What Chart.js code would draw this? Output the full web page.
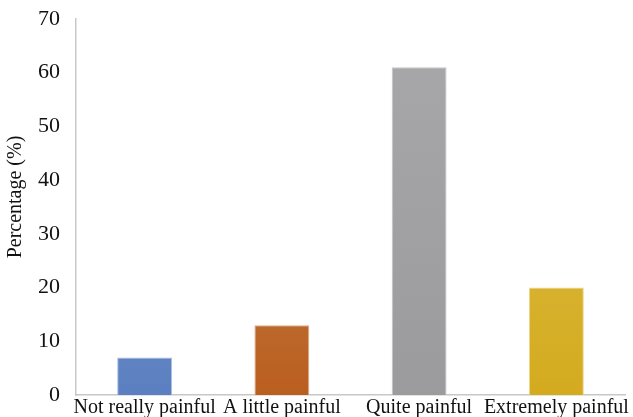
<!DOCTYPE html>
<html>
<head>
<meta charset="utf-8">
<script src="https://cdn.jsdelivr.net/npm/chart.js@4"></script>
<style>
  html, body { margin: 0; padding: 0; background: #fff; }
  #wrap { width: 633px; height: 417px; }
</style>
</head>
<body>
<div id="wrap"><canvas id="c" width="633" height="417"></canvas></div>
<script>
const categories = ['Not really painful', 'A little painful', 'Quite painful', 'Extremely painful'];
const percentages = [7, 13, 61, 20];
const yTicks = [0, 10, 20, 30, 40, 50, 60, 70];
const yTitle = 'Percentage (%)';
// top / bottom colours of each bar's vertical gradient
const gradTop = ['#809fd6', '#c98a5c', '#a8a8aa', '#dfc152'];
const gradBottom = ['#5b7fc0', '#b95f20', '#9b9b9d', '#d4ab1f'];
const edgeColors = ['#a9bde3', '#dcae8c', '#c4c4c6', '#ecd68a'];

const FONT = "'Liberation Serif', 'Times New Roman', serif";

function barGradient(ctx) {
  const chart = ctx.chart;
  const area = chart.chartArea;
  if (!area) return gradTop[ctx.dataIndex];
  const el = ctx.element;
  const i = ctx.dataIndex;
  const yTop = el && el.y !== undefined ? el.y : area.top;
  const g = chart.ctx.createLinearGradient(0, yTop, 0, area.bottom);
  g.addColorStop(0, gradTop[i]);
  g.addColorStop(1, gradBottom[i]);
  return g;
}

// vertical axis title, sitting a little above the middle of the plot
const axisTitle = {
  id: 'axisTitle',
  afterDraw(chart) {
    const { ctx, chartArea } = chart;
    ctx.save();
    ctx.translate(16, (chartArea.top + chartArea.bottom) / 2 - 10);
    ctx.rotate(-Math.PI / 2);
    ctx.font = '20px ' + FONT;
    ctx.fillStyle = '#111';
    ctx.textAlign = 'center';
    ctx.textBaseline = 'middle';
    ctx.fillText(yTitle, 0, 0);
    ctx.restore();
  }
};

new Chart(document.getElementById('c'), {
  type: 'bar',
  data: {
    labels: categories,
    datasets: [{
      data: percentages,
      backgroundColor: barGradient,
      borderColor: edgeColors,
      borderWidth: 1,
      barPercentage: 0.8,
      categoryPercentage: 0.5
    }]
  },
  plugins: [axisTitle],
  options: {
    responsive: false,
    animation: false,
    devicePixelRatio: 1,
    layout: { padding: { top: 19, right: 8, left: 0, bottom: 0 } },
    plugins: { legend: { display: false }, tooltip: { enabled: false } },
    scales: {
      x: {
        grid: { display: false, drawTicks: false },
        border: { display: true, color: '#c8c8c8', width: 1.5 },
        ticks: {
          color: '#111',
          font: { family: FONT, size: 20 },
          padding: 1,
          maxRotation: 0,
          autoSkip: false
        },
        afterFit: s => { s.height = 22; }
      },
      y: {
        min: 0,
        max: 70,
        afterBuildTicks: s => { s.ticks = yTicks.map(v => ({ value: v })); },
        grid: { display: false, drawTicks: false },
        border: { display: true, color: '#c8c8c8', width: 1.5 },
        ticks: {
          color: '#111',
          font: { family: FONT, size: 22, lineHeight: 0.2 },
          padding: 16
        },
        afterFit: s => { s.width = 76; }
      }
    }
  }
});
</script>
</body>
</html>
